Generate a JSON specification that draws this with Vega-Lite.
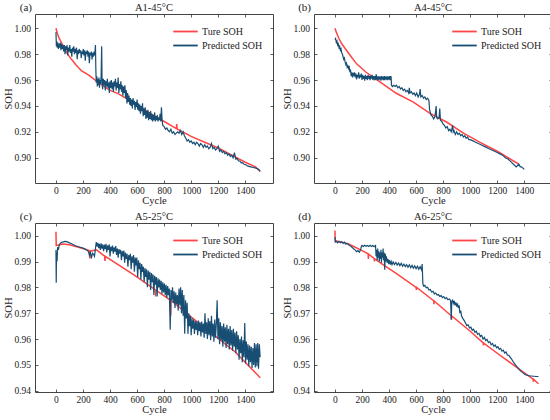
{
  "$schema": "https://vega.github.io/schema/vega-lite/v6.json",
  "padding": {"left": 3, "top": 1, "right": 2, "bottom": 2},
  "datasets": {
    "a_true": [
      {"cycle":0,"soh":1.0},{"cycle":10,"soh":0.996},{"cycle":25,"soh":0.992},{"cycle":40,"soh":0.989},{"cycle":60,"soh":0.985},
      {"cycle":80,"soh":0.981},{"cycle":115,"soh":0.976},{"cycle":150,"soh":0.9715},{"cycle":190,"soh":0.967},{"cycle":240,"soh":0.964},
      {"cycle":290,"soh":0.96},{"cycle":350,"soh":0.9555},{"cycle":400,"soh":0.952},{"cycle":460,"soh":0.9495},{"cycle":500,"soh":0.947},
      {"cycle":600,"soh":0.941},{"cycle":700,"soh":0.934},{"cycle":800,"soh":0.928},{"cycle":890,"soh":0.9225},{"cycle":893,"soh":0.926},
      {"cycle":896,"soh":0.9222},{"cycle":1000,"soh":0.9165},{"cycle":1100,"soh":0.912},{"cycle":1200,"soh":0.9075},{"cycle":1300,"soh":0.902},
      {"cycle":1400,"soh":0.8965},{"cycle":1475,"soh":0.893},{"cycle":1510,"soh":0.8895}
    ],
    "a_pred": [
      {"cycle":0,"soh":0.997},{"cycle":3,"soh":0.986},{"cycle":6,"soh":0.99},{"cycle":10,"soh":0.985},{"cycle":14,"soh":0.989},
      {"cycle":18,"soh":0.984},{"cycle":22,"soh":0.988},{"cycle":27,"soh":0.985},{"cycle":32,"soh":0.989},{"cycle":37,"soh":0.983},
      {"cycle":42,"soh":0.988},{"cycle":47,"soh":0.984},{"cycle":52,"soh":0.987},{"cycle":57,"soh":0.982},{"cycle":62,"soh":0.987},
      {"cycle":67,"soh":0.98},{"cycle":72,"soh":0.986},{"cycle":77,"soh":0.983},{"cycle":82,"soh":0.987},{"cycle":87,"soh":0.979},
      {"cycle":92,"soh":0.985},{"cycle":97,"soh":0.982},{"cycle":102,"soh":0.987},{"cycle":107,"soh":0.981},{"cycle":112,"soh":0.984},
      {"cycle":117,"soh":0.978},{"cycle":122,"soh":0.985},{"cycle":127,"soh":0.982},{"cycle":132,"soh":0.986},{"cycle":137,"soh":0.98},
      {"cycle":142,"soh":0.984},{"cycle":147,"soh":0.981},{"cycle":152,"soh":0.985},{"cycle":157,"soh":0.976},{"cycle":162,"soh":0.983},
      {"cycle":167,"soh":0.98},{"cycle":172,"soh":0.984},{"cycle":177,"soh":0.981},{"cycle":182,"soh":0.983},{"cycle":187,"soh":0.977},
      {"cycle":192,"soh":0.982},{"cycle":197,"soh":0.98},{"cycle":202,"soh":0.984},{"cycle":207,"soh":0.979},{"cycle":212,"soh":0.983},
      {"cycle":217,"soh":0.975},{"cycle":222,"soh":0.982},{"cycle":227,"soh":0.98},{"cycle":232,"soh":0.983},{"cycle":237,"soh":0.978},
      {"cycle":242,"soh":0.982},{"cycle":247,"soh":0.973},{"cycle":252,"soh":0.981},{"cycle":257,"soh":0.979},{"cycle":262,"soh":0.982},
      {"cycle":267,"soh":0.976},{"cycle":272,"soh":0.981},{"cycle":277,"soh":0.978},{"cycle":282,"soh":0.982},{"cycle":287,"soh":0.979},
      {"cycle":292,"soh":0.987},{"cycle":295,"soh":0.968},{"cycle":298,"soh":0.958},{"cycle":302,"soh":0.963},{"cycle":306,"soh":0.955},
      {"cycle":310,"soh":0.961},{"cycle":314,"soh":0.956},{"cycle":318,"soh":0.962},{"cycle":322,"soh":0.954},{"cycle":326,"soh":0.96},
      {"cycle":330,"soh":0.957},{"cycle":334,"soh":0.963},{"cycle":338,"soh":0.986},{"cycle":341,"soh":0.958},{"cycle":345,"soh":0.953},
      {"cycle":350,"soh":0.961},{"cycle":355,"soh":0.956},{"cycle":360,"soh":0.96},{"cycle":365,"soh":0.952},{"cycle":370,"soh":0.959},
      {"cycle":375,"soh":0.955},{"cycle":380,"soh":0.961},{"cycle":385,"soh":0.954},{"cycle":390,"soh":0.958},{"cycle":395,"soh":0.95},
      {"cycle":400,"soh":0.959},{"cycle":405,"soh":0.954},{"cycle":410,"soh":0.96},{"cycle":415,"soh":0.953},{"cycle":420,"soh":0.958},
      {"cycle":425,"soh":0.951},{"cycle":430,"soh":0.959},{"cycle":435,"soh":0.955},{"cycle":440,"soh":0.961},{"cycle":445,"soh":0.952},
      {"cycle":450,"soh":0.958},{"cycle":455,"soh":0.954},{"cycle":460,"soh":0.962},{"cycle":465,"soh":0.95},{"cycle":470,"soh":0.957},
      {"cycle":475,"soh":0.953},{"cycle":480,"soh":0.959},{"cycle":485,"soh":0.951},{"cycle":490,"soh":0.956},{"cycle":495,"soh":0.948},
      {"cycle":500,"soh":0.955},{"cycle":505,"soh":0.95},{"cycle":510,"soh":0.956},{"cycle":515,"soh":0.946},{"cycle":520,"soh":0.952},
      {"cycle":525,"soh":0.942},{"cycle":530,"soh":0.95},{"cycle":535,"soh":0.943},{"cycle":540,"soh":0.948},{"cycle":545,"soh":0.941},
      {"cycle":550,"soh":0.946},{"cycle":555,"soh":0.94},{"cycle":560,"soh":0.945},{"cycle":565,"soh":0.938},{"cycle":570,"soh":0.946},
      {"cycle":575,"soh":0.941},{"cycle":580,"soh":0.944},{"cycle":585,"soh":0.937},{"cycle":590,"soh":0.943},{"cycle":595,"soh":0.939},
      {"cycle":600,"soh":0.945},{"cycle":605,"soh":0.937},{"cycle":610,"soh":0.942},{"cycle":615,"soh":0.936},{"cycle":620,"soh":0.941},
      {"cycle":625,"soh":0.934},{"cycle":630,"soh":0.94},{"cycle":635,"soh":0.936},{"cycle":640,"soh":0.942},{"cycle":645,"soh":0.932},
      {"cycle":650,"soh":0.938},{"cycle":655,"soh":0.933},{"cycle":660,"soh":0.939},{"cycle":665,"soh":0.93},{"cycle":670,"soh":0.936},
      {"cycle":675,"soh":0.931},{"cycle":680,"soh":0.937},{"cycle":685,"soh":0.929},{"cycle":690,"soh":0.935},{"cycle":695,"soh":0.93},
      {"cycle":700,"soh":0.936},{"cycle":705,"soh":0.929},{"cycle":710,"soh":0.934},{"cycle":715,"soh":0.928},{"cycle":720,"soh":0.933},
      {"cycle":725,"soh":0.929},{"cycle":730,"soh":0.935},{"cycle":735,"soh":0.928},{"cycle":740,"soh":0.932},{"cycle":745,"soh":0.929},
      {"cycle":750,"soh":0.933},{"cycle":755,"soh":0.928},{"cycle":760,"soh":0.931},{"cycle":765,"soh":0.929},{"cycle":770,"soh":0.934},
      {"cycle":775,"soh":0.928},{"cycle":780,"soh":0.939},{"cycle":785,"soh":0.929},{"cycle":790,"soh":0.925},{"cycle":800,"soh":0.924},
      {"cycle":810,"soh":0.922},{"cycle":820,"soh":0.923},{"cycle":830,"soh":0.921},{"cycle":840,"soh":0.92},{"cycle":850,"soh":0.922},
      {"cycle":860,"soh":0.919},{"cycle":870,"soh":0.92},{"cycle":880,"soh":0.918},{"cycle":890,"soh":0.919},{"cycle":900,"soh":0.92},
      {"cycle":910,"soh":0.919},{"cycle":920,"soh":0.921},{"cycle":930,"soh":0.918},{"cycle":940,"soh":0.92},{"cycle":950,"soh":0.917},
      {"cycle":960,"soh":0.915},{"cycle":970,"soh":0.913},{"cycle":980,"soh":0.914},{"cycle":990,"soh":0.912},{"cycle":1000,"soh":0.913},
      {"cycle":1010,"soh":0.911},{"cycle":1020,"soh":0.912},{"cycle":1030,"soh":0.91},{"cycle":1040,"soh":0.912},{"cycle":1050,"soh":0.911},
      {"cycle":1060,"soh":0.909},{"cycle":1070,"soh":0.911},{"cycle":1080,"soh":0.91},{"cycle":1090,"soh":0.908},{"cycle":1100,"soh":0.91},
      {"cycle":1110,"soh":0.908},{"cycle":1120,"soh":0.909},{"cycle":1130,"soh":0.907},{"cycle":1140,"soh":0.908},{"cycle":1150,"soh":0.911},
      {"cycle":1160,"soh":0.907},{"cycle":1170,"soh":0.908},{"cycle":1180,"soh":0.906},{"cycle":1190,"soh":0.907},{"cycle":1200,"soh":0.909},
      {"cycle":1210,"soh":0.905},{"cycle":1220,"soh":0.906},{"cycle":1230,"soh":0.904},{"cycle":1240,"soh":0.905},{"cycle":1250,"soh":0.903},
      {"cycle":1260,"soh":0.904},{"cycle":1270,"soh":0.902},{"cycle":1280,"soh":0.903},{"cycle":1290,"soh":0.901},{"cycle":1300,"soh":0.902},
      {"cycle":1310,"soh":0.9},{"cycle":1320,"soh":0.904},{"cycle":1330,"soh":0.899},{"cycle":1340,"soh":0.8995},{"cycle":1350,"soh":0.8975},
      {"cycle":1360,"soh":0.8975},{"cycle":1370,"soh":0.896},{"cycle":1380,"soh":0.8962},{"cycle":1390,"soh":0.895},{"cycle":1400,"soh":0.8948},
      {"cycle":1420,"soh":0.8935},{"cycle":1440,"soh":0.893},{"cycle":1460,"soh":0.8925},{"cycle":1480,"soh":0.892},{"cycle":1500,"soh":0.891},
      {"cycle":1510,"soh":0.8895}
    ],
    "b_true": [
      {"cycle":0,"soh":1.0},{"cycle":10,"soh":0.997},{"cycle":25,"soh":0.993},{"cycle":50,"soh":0.988},{"cycle":85,"soh":0.983},
      {"cycle":120,"soh":0.978},{"cycle":160,"soh":0.9725},{"cycle":230,"soh":0.966},{"cycle":330,"soh":0.9587},{"cycle":450,"soh":0.95},
      {"cycle":580,"soh":0.943},{"cycle":700,"soh":0.9345},{"cycle":825,"soh":0.9276},{"cycle":950,"soh":0.919},{"cycle":1070,"soh":0.912},
      {"cycle":1200,"soh":0.905},{"cycle":1320,"soh":0.8975},{"cycle":1360,"soh":0.895}
    ],
    "b_pred": [
      {"cycle":0,"soh":0.991},{"cycle":5,"soh":0.992},{"cycle":10,"soh":0.989},{"cycle":15,"soh":0.99},{"cycle":20,"soh":0.987},
      {"cycle":25,"soh":0.988},{"cycle":30,"soh":0.985},{"cycle":35,"soh":0.986},{"cycle":40,"soh":0.983},{"cycle":45,"soh":0.984},
      {"cycle":50,"soh":0.981},{"cycle":55,"soh":0.98},{"cycle":60,"soh":0.978},{"cycle":65,"soh":0.976},{"cycle":70,"soh":0.977},
      {"cycle":75,"soh":0.974},{"cycle":80,"soh":0.972},{"cycle":85,"soh":0.973},{"cycle":90,"soh":0.97},{"cycle":95,"soh":0.971},
      {"cycle":100,"soh":0.969},{"cycle":105,"soh":0.971},{"cycle":110,"soh":0.966},{"cycle":115,"soh":0.968},{"cycle":120,"soh":0.963},
      {"cycle":125,"soh":0.966},{"cycle":130,"soh":0.962},{"cycle":135,"soh":0.9655},{"cycle":140,"soh":0.963},{"cycle":145,"soh":0.966},
      {"cycle":150,"soh":0.962},{"cycle":155,"soh":0.965},{"cycle":160,"soh":0.9605},{"cycle":165,"soh":0.964},{"cycle":170,"soh":0.962},
      {"cycle":175,"soh":0.966},{"cycle":180,"soh":0.961},{"cycle":185,"soh":0.964},{"cycle":190,"soh":0.962},{"cycle":195,"soh":0.965},
      {"cycle":200,"soh":0.96},{"cycle":205,"soh":0.964},{"cycle":210,"soh":0.961},{"cycle":215,"soh":0.963},{"cycle":220,"soh":0.9595},
      {"cycle":225,"soh":0.964},{"cycle":230,"soh":0.961},{"cycle":235,"soh":0.963},{"cycle":240,"soh":0.96},{"cycle":245,"soh":0.964},
      {"cycle":250,"soh":0.961},{"cycle":255,"soh":0.963},{"cycle":260,"soh":0.96},{"cycle":265,"soh":0.9635},{"cycle":270,"soh":0.961},
      {"cycle":275,"soh":0.964},{"cycle":280,"soh":0.96},{"cycle":285,"soh":0.963},{"cycle":290,"soh":0.961},{"cycle":295,"soh":0.963},
      {"cycle":300,"soh":0.96},{"cycle":305,"soh":0.9645},{"cycle":310,"soh":0.961},{"cycle":315,"soh":0.962},{"cycle":320,"soh":0.96},
      {"cycle":325,"soh":0.963},{"cycle":330,"soh":0.961},{"cycle":335,"soh":0.962},{"cycle":340,"soh":0.9595},{"cycle":345,"soh":0.963},
      {"cycle":350,"soh":0.961},{"cycle":355,"soh":0.962},{"cycle":360,"soh":0.96},{"cycle":365,"soh":0.963},{"cycle":370,"soh":0.96},
      {"cycle":375,"soh":0.962},{"cycle":380,"soh":0.961},{"cycle":385,"soh":0.963},{"cycle":390,"soh":0.96},{"cycle":395,"soh":0.962},
      {"cycle":400,"soh":0.961},{"cycle":405,"soh":0.963},{"cycle":410,"soh":0.96},{"cycle":415,"soh":0.963},{"cycle":418,"soh":0.956},
      {"cycle":425,"soh":0.955},{"cycle":435,"soh":0.956},{"cycle":445,"soh":0.955},{"cycle":455,"soh":0.956},{"cycle":465,"soh":0.954},
      {"cycle":475,"soh":0.955},{"cycle":485,"soh":0.953},{"cycle":495,"soh":0.954},{"cycle":505,"soh":0.952},{"cycle":515,"soh":0.953},
      {"cycle":525,"soh":0.951},{"cycle":535,"soh":0.952},{"cycle":545,"soh":0.95},{"cycle":550,"soh":0.954},{"cycle":555,"soh":0.95},
      {"cycle":565,"soh":0.951},{"cycle":575,"soh":0.949},{"cycle":585,"soh":0.95},{"cycle":595,"soh":0.948},{"cycle":605,"soh":0.95},
      {"cycle":615,"soh":0.947},{"cycle":625,"soh":0.949},{"cycle":630,"soh":0.953},{"cycle":635,"soh":0.947},{"cycle":645,"soh":0.948},
      {"cycle":655,"soh":0.946},{"cycle":665,"soh":0.947},{"cycle":675,"soh":0.945},{"cycle":685,"soh":0.946},{"cycle":695,"soh":0.944},
      {"cycle":700,"soh":0.937},{"cycle":710,"soh":0.933},{"cycle":720,"soh":0.932},{"cycle":730,"soh":0.93},{"cycle":740,"soh":0.932},
      {"cycle":748,"soh":0.94},{"cycle":752,"soh":0.931},{"cycle":760,"soh":0.93},{"cycle":770,"soh":0.931},{"cycle":775,"soh":0.938},
      {"cycle":780,"soh":0.929},{"cycle":790,"soh":0.928},{"cycle":800,"soh":0.926},{"cycle":810,"soh":0.925},{"cycle":820,"soh":0.923},
      {"cycle":830,"soh":0.924},{"cycle":840,"soh":0.921},{"cycle":850,"soh":0.922},{"cycle":860,"soh":0.92},{"cycle":870,"soh":0.925},
      {"cycle":875,"soh":0.92},{"cycle":880,"soh":0.921},{"cycle":890,"soh":0.918},{"cycle":900,"soh":0.92},{"cycle":910,"soh":0.918},
      {"cycle":920,"soh":0.919},{"cycle":930,"soh":0.917},{"cycle":940,"soh":0.918},{"cycle":950,"soh":0.916},{"cycle":960,"soh":0.917},
      {"cycle":970,"soh":0.915},{"cycle":980,"soh":0.916},{"cycle":990,"soh":0.914},{"cycle":1000,"soh":0.914},{"cycle":1020,"soh":0.913},
      {"cycle":1040,"soh":0.912},{"cycle":1060,"soh":0.911},{"cycle":1080,"soh":0.91},{"cycle":1100,"soh":0.909},{"cycle":1120,"soh":0.908},
      {"cycle":1140,"soh":0.907},{"cycle":1160,"soh":0.906},{"cycle":1180,"soh":0.905},{"cycle":1200,"soh":0.904},{"cycle":1220,"soh":0.903},
      {"cycle":1240,"soh":0.902},{"cycle":1260,"soh":0.9},{"cycle":1280,"soh":0.899},{"cycle":1300,"soh":0.897},{"cycle":1320,"soh":0.895},
      {"cycle":1340,"soh":0.893},{"cycle":1350,"soh":0.894},{"cycle":1360,"soh":0.895},{"cycle":1370,"soh":0.893},{"cycle":1380,"soh":0.893},
      {"cycle":1390,"soh":0.892},{"cycle":1400,"soh":0.891}
    ],
    "c_true": [
      {"cycle":0,"soh":1.0015},{"cycle":2,"soh":0.9962},{"cycle":50,"soh":0.9968},{"cycle":100,"soh":0.9965},{"cycle":200,"soh":0.995},
      {"cycle":246,"soh":0.9942},{"cycle":250,"soh":0.9912},{"cycle":254,"soh":0.994},{"cycle":300,"soh":0.9945},{"cycle":360,"soh":0.9921},
      {"cycle":362,"soh":0.9902},{"cycle":365,"soh":0.992},{"cycle":585,"soh":0.9845},{"cycle":735,"soh":0.979},{"cycle":737,"soh":0.9765},
      {"cycle":739,"soh":0.9789},{"cycle":832,"soh":0.9755},{"cycle":847,"soh":0.975},{"cycle":849,"soh":0.969},{"cycle":851,"soh":0.9749},
      {"cycle":1079,"soh":0.9652},{"cycle":1326,"soh":0.955},{"cycle":1511,"soh":0.945}
    ],
    "c_pred": [
      {"cycle":0,"soh":0.9945},{"cycle":2,"soh":0.9818},{"cycle":4,"soh":0.9935},{"cycle":8,"soh":0.99},{"cycle":12,"soh":0.9955},
      {"cycle":18,"soh":0.9945},{"cycle":25,"soh":0.9965},{"cycle":35,"soh":0.9972},{"cycle":45,"soh":0.9975},{"cycle":55,"soh":0.9976},
      {"cycle":65,"soh":0.9978},{"cycle":80,"soh":0.9977},{"cycle":100,"soh":0.9972},{"cycle":120,"soh":0.9968},{"cycle":140,"soh":0.9962},
      {"cycle":160,"soh":0.9958},{"cycle":180,"soh":0.9955},{"cycle":200,"soh":0.9952},{"cycle":215,"soh":0.9948},{"cycle":230,"soh":0.9944},
      {"cycle":240,"soh":0.9938},{"cycle":248,"soh":0.9925},{"cycle":255,"soh":0.9935},{"cycle":262,"soh":0.9912},{"cycle":270,"soh":0.9932},
      {"cycle":278,"soh":0.9928},{"cycle":285,"soh":0.992},{"cycle":292,"soh":0.995},{"cycle":298,"soh":0.9975},{"cycle":304,"soh":0.9958},
      {"cycle":310,"soh":0.9972},{"cycle":316,"soh":0.9952},{"cycle":322,"soh":0.9968},{"cycle":328,"soh":0.9945},{"cycle":334,"soh":0.997},
      {"cycle":340,"soh":0.995},{"cycle":346,"soh":0.9966},{"cycle":352,"soh":0.994},{"cycle":358,"soh":0.9965},{"cycle":364,"soh":0.9948},
      {"cycle":370,"soh":0.9968},{"cycle":376,"soh":0.9935},{"cycle":382,"soh":0.9962},{"cycle":388,"soh":0.9945},{"cycle":394,"soh":0.9966},
      {"cycle":400,"soh":0.992},{"cycle":406,"soh":0.9958},{"cycle":412,"soh":0.994},{"cycle":418,"soh":0.9962},{"cycle":424,"soh":0.993},
      {"cycle":430,"soh":0.9955},{"cycle":436,"soh":0.9938},{"cycle":442,"soh":0.996},{"cycle":448,"soh":0.9925},{"cycle":454,"soh":0.995},
      {"cycle":460,"soh":0.9915},{"cycle":466,"soh":0.9948},{"cycle":472,"soh":0.993},{"cycle":478,"soh":0.9945},{"cycle":484,"soh":0.9905},
      {"cycle":490,"soh":0.994},{"cycle":496,"soh":0.992},{"cycle":502,"soh":0.9942},{"cycle":508,"soh":0.9895},{"cycle":514,"soh":0.9935},
      {"cycle":520,"soh":0.991},{"cycle":526,"soh":0.993},{"cycle":532,"soh":0.988},{"cycle":538,"soh":0.9925},{"cycle":544,"soh":0.9905},
      {"cycle":550,"soh":0.993},{"cycle":556,"soh":0.987},{"cycle":562,"soh":0.992},{"cycle":568,"soh":0.9895},{"cycle":574,"soh":0.9925},
      {"cycle":580,"soh":0.986},{"cycle":586,"soh":0.9915},{"cycle":592,"soh":0.9885},{"cycle":598,"soh":0.9915},{"cycle":604,"soh":0.984},
      {"cycle":610,"soh":0.9905},{"cycle":616,"soh":0.987},{"cycle":622,"soh":0.9895},{"cycle":628,"soh":0.983},{"cycle":634,"soh":0.989},
      {"cycle":640,"soh":0.986},{"cycle":646,"soh":0.988},{"cycle":652,"soh":0.982},{"cycle":658,"soh":0.9875},{"cycle":664,"soh":0.984},
      {"cycle":670,"soh":0.987},{"cycle":676,"soh":0.98},{"cycle":682,"soh":0.9865},{"cycle":688,"soh":0.983},{"cycle":694,"soh":0.986},
      {"cycle":700,"soh":0.979},{"cycle":706,"soh":0.9855},{"cycle":712,"soh":0.982},{"cycle":718,"soh":0.985},{"cycle":724,"soh":0.977},
      {"cycle":730,"soh":0.9845},{"cycle":736,"soh":0.981},{"cycle":742,"soh":0.984},{"cycle":748,"soh":0.9765},{"cycle":754,"soh":0.9835},
      {"cycle":760,"soh":0.98},{"cycle":766,"soh":0.983},{"cycle":772,"soh":0.979},{"cycle":778,"soh":0.9825},{"cycle":784,"soh":0.9775},
      {"cycle":790,"soh":0.982},{"cycle":796,"soh":0.978},{"cycle":802,"soh":0.9815},{"cycle":808,"soh":0.977},{"cycle":814,"soh":0.981},
      {"cycle":820,"soh":0.976},{"cycle":826,"soh":0.9805},{"cycle":832,"soh":0.977},{"cycle":838,"soh":0.9795},{"cycle":845,"soh":0.9636},
      {"cycle":850,"soh":0.979},{"cycle":856,"soh":0.975},{"cycle":862,"soh":0.98},{"cycle":868,"soh":0.974},{"cycle":874,"soh":0.9785},
      {"cycle":880,"soh":0.972},{"cycle":886,"soh":0.978},{"cycle":892,"soh":0.9735},{"cycle":898,"soh":0.977},{"cycle":904,"soh":0.971},
      {"cycle":910,"soh":0.9795},{"cycle":916,"soh":0.973},{"cycle":922,"soh":0.98},{"cycle":928,"soh":0.97},{"cycle":934,"soh":0.979},
      {"cycle":940,"soh":0.969},{"cycle":946,"soh":0.977},{"cycle":952,"soh":0.962},{"cycle":958,"soh":0.975},{"cycle":964,"soh":0.968},
      {"cycle":970,"soh":0.974},{"cycle":976,"soh":0.962},{"cycle":982,"soh":0.97},{"cycle":988,"soh":0.965},{"cycle":994,"soh":0.969},
      {"cycle":1000,"soh":0.9615},{"cycle":1006,"soh":0.968},{"cycle":1012,"soh":0.964},{"cycle":1018,"soh":0.9675},{"cycle":1024,"soh":0.962},
      {"cycle":1030,"soh":0.967},{"cycle":1036,"soh":0.9635},{"cycle":1042,"soh":0.9668},{"cycle":1048,"soh":0.9615},{"cycle":1054,"soh":0.9672},
      {"cycle":1060,"soh":0.963},{"cycle":1066,"soh":0.9665},{"cycle":1072,"soh":0.961},{"cycle":1078,"soh":0.9668},{"cycle":1084,"soh":0.9625},
      {"cycle":1090,"soh":0.966},{"cycle":1096,"soh":0.9605},{"cycle":1102,"soh":0.97},{"cycle":1108,"soh":0.962},{"cycle":1114,"soh":0.9665},
      {"cycle":1120,"soh":0.96},{"cycle":1126,"soh":0.968},{"cycle":1132,"soh":0.9615},{"cycle":1138,"soh":0.967},{"cycle":1144,"soh":0.9595},
      {"cycle":1150,"soh":0.969},{"cycle":1156,"soh":0.961},{"cycle":1162,"soh":0.966},{"cycle":1168,"soh":0.959},{"cycle":1174,"soh":0.9675},
      {"cycle":1180,"soh":0.9605},{"cycle":1186,"soh":0.966},{"cycle":1192,"soh":0.975},{"cycle":1198,"soh":0.96},{"cycle":1204,"soh":0.968},
      {"cycle":1210,"soh":0.958},{"cycle":1216,"soh":0.9665},{"cycle":1222,"soh":0.9595},{"cycle":1228,"soh":0.965},{"cycle":1234,"soh":0.957},
      {"cycle":1240,"soh":0.966},{"cycle":1246,"soh":0.959},{"cycle":1252,"soh":0.9645},{"cycle":1258,"soh":0.9565},{"cycle":1264,"soh":0.9655},
      {"cycle":1270,"soh":0.958},{"cycle":1276,"soh":0.964},{"cycle":1282,"soh":0.956},{"cycle":1288,"soh":0.965},{"cycle":1294,"soh":0.9575},
      {"cycle":1300,"soh":0.9635},{"cycle":1306,"soh":0.9555},{"cycle":1312,"soh":0.964},{"cycle":1318,"soh":0.957},{"cycle":1324,"soh":0.9625},
      {"cycle":1330,"soh":0.9545},{"cycle":1336,"soh":0.963},{"cycle":1342,"soh":0.956},{"cycle":1348,"soh":0.9615},{"cycle":1354,"soh":0.952},
      {"cycle":1360,"soh":0.96},{"cycle":1366,"soh":0.9545},{"cycle":1372,"soh":0.961},{"cycle":1378,"soh":0.951},{"cycle":1384,"soh":0.9595},
      {"cycle":1390,"soh":0.953},{"cycle":1396,"soh":0.9662},{"cycle":1402,"soh":0.9505},{"cycle":1408,"soh":0.959},{"cycle":1414,"soh":0.952},
      {"cycle":1420,"soh":0.958},{"cycle":1426,"soh":0.9495},{"cycle":1432,"soh":0.9575},{"cycle":1438,"soh":0.951},{"cycle":1444,"soh":0.957},
      {"cycle":1450,"soh":0.9488},{"cycle":1456,"soh":0.9565},{"cycle":1462,"soh":0.95},{"cycle":1468,"soh":0.9585},{"cycle":1474,"soh":0.949},
      {"cycle":1480,"soh":0.958},{"cycle":1486,"soh":0.9495},{"cycle":1492,"soh":0.9585},{"cycle":1498,"soh":0.9485},{"cycle":1504,"soh":0.958},
      {"cycle":1510,"soh":0.953}
    ],
    "d_true": [
      {"cycle":0,"soh":1.002},{"cycle":2,"soh":0.998},{"cycle":50,"soh":0.9975},{"cycle":100,"soh":0.9968},{"cycle":150,"soh":0.9955},
      {"cycle":200,"soh":0.9942},{"cycle":245,"soh":0.993},{"cycle":247,"soh":0.991},{"cycle":249,"soh":0.9928},{"cycle":290,"soh":0.9912},
      {"cycle":292,"soh":0.99},{"cycle":294,"soh":0.991},{"cycle":350,"soh":0.989},{"cycle":450,"soh":0.9855},{"cycle":600,"soh":0.98},
      {"cycle":602,"soh":0.979},{"cycle":604,"soh":0.98},{"cycle":730,"soh":0.9748},{"cycle":732,"soh":0.9735},{"cycle":734,"soh":0.9747},
      {"cycle":860,"soh":0.969},{"cycle":862,"soh":0.9675},{"cycle":864,"soh":0.9689},{"cycle":1000,"soh":0.963},{"cycle":1096,"soh":0.9585},
      {"cycle":1098,"soh":0.9575},{"cycle":1100,"soh":0.9584},{"cycle":1200,"soh":0.9545},{"cycle":1319,"soh":0.95},{"cycle":1465,"soh":0.9445},
      {"cycle":1467,"soh":0.9435},{"cycle":1469,"soh":0.9444},{"cycle":1505,"soh":0.9427}
    ],
    "d_pred": [
      {"cycle":0,"soh":0.9995},{"cycle":3,"soh":0.9975},{"cycle":10,"soh":0.9978},{"cycle":20,"soh":0.9972},{"cycle":30,"soh":0.9978},
      {"cycle":40,"soh":0.9973},{"cycle":50,"soh":0.9976},{"cycle":60,"soh":0.997},{"cycle":70,"soh":0.9975},{"cycle":80,"soh":0.9968},
      {"cycle":90,"soh":0.997},{"cycle":100,"soh":0.9965},{"cycle":110,"soh":0.9962},{"cycle":120,"soh":0.9958},{"cycle":130,"soh":0.9953},
      {"cycle":140,"soh":0.9948},{"cycle":150,"soh":0.9944},{"cycle":160,"soh":0.9938},{"cycle":170,"soh":0.9942},{"cycle":180,"soh":0.9936},
      {"cycle":190,"soh":0.9945},{"cycle":195,"soh":0.9958},{"cycle":200,"soh":0.9962},{"cycle":210,"soh":0.9958},{"cycle":220,"soh":0.9963},
      {"cycle":230,"soh":0.9959},{"cycle":240,"soh":0.9962},{"cycle":250,"soh":0.9958},{"cycle":260,"soh":0.9963},{"cycle":270,"soh":0.9958},
      {"cycle":280,"soh":0.9962},{"cycle":290,"soh":0.9957},{"cycle":300,"soh":0.9962},{"cycle":304,"soh":0.992},{"cycle":308,"soh":0.9945},
      {"cycle":312,"soh":0.9905},{"cycle":316,"soh":0.995},{"cycle":320,"soh":0.9915},{"cycle":324,"soh":0.994},{"cycle":328,"soh":0.99},
      {"cycle":332,"soh":0.9935},{"cycle":336,"soh":0.991},{"cycle":340,"soh":0.9945},{"cycle":344,"soh":0.9895},{"cycle":348,"soh":0.9935},
      {"cycle":352,"soh":0.9915},{"cycle":356,"soh":0.995},{"cycle":360,"soh":0.9905},{"cycle":364,"soh":0.9935},{"cycle":368,"soh":0.9868},
      {"cycle":372,"soh":0.993},{"cycle":376,"soh":0.99},{"cycle":380,"soh":0.992},{"cycle":386,"soh":0.9895},{"cycle":392,"soh":0.991},
      {"cycle":398,"soh":0.989},{"cycle":404,"soh":0.9905},{"cycle":410,"soh":0.9888},{"cycle":416,"soh":0.99},{"cycle":422,"soh":0.9888},
      {"cycle":430,"soh":0.9898},{"cycle":440,"soh":0.9888},{"cycle":450,"soh":0.9896},{"cycle":460,"soh":0.9886},{"cycle":470,"soh":0.9894},
      {"cycle":480,"soh":0.9884},{"cycle":490,"soh":0.9893},{"cycle":500,"soh":0.9882},{"cycle":510,"soh":0.989},{"cycle":520,"soh":0.988},
      {"cycle":530,"soh":0.9888},{"cycle":540,"soh":0.9878},{"cycle":550,"soh":0.9887},{"cycle":560,"soh":0.9876},{"cycle":570,"soh":0.9885},
      {"cycle":580,"soh":0.9874},{"cycle":590,"soh":0.9883},{"cycle":600,"soh":0.9872},{"cycle":610,"soh":0.9882},{"cycle":620,"soh":0.987},
      {"cycle":630,"soh":0.988},{"cycle":640,"soh":0.9868},{"cycle":645,"soh":0.989},{"cycle":650,"soh":0.9815},{"cycle":655,"soh":0.9805},
      {"cycle":665,"soh":0.9808},{"cycle":675,"soh":0.9798},{"cycle":685,"soh":0.98},{"cycle":695,"soh":0.979},{"cycle":705,"soh":0.9792},
      {"cycle":715,"soh":0.9782},{"cycle":725,"soh":0.9785},{"cycle":735,"soh":0.9775},{"cycle":745,"soh":0.9778},{"cycle":755,"soh":0.977},
      {"cycle":765,"soh":0.9772},{"cycle":775,"soh":0.9765},{"cycle":785,"soh":0.9768},{"cycle":795,"soh":0.976},{"cycle":805,"soh":0.9764},
      {"cycle":815,"soh":0.9756},{"cycle":825,"soh":0.976},{"cycle":835,"soh":0.9752},{"cycle":845,"soh":0.9755},{"cycle":855,"soh":0.975},
      {"cycle":860,"soh":0.9675},{"cycle":864,"soh":0.9745},{"cycle":870,"soh":0.975},{"cycle":876,"soh":0.9738},{"cycle":882,"soh":0.9748},
      {"cycle":888,"soh":0.973},{"cycle":894,"soh":0.9742},{"cycle":900,"soh":0.9725},{"cycle":906,"soh":0.9738},{"cycle":912,"soh":0.972},
      {"cycle":918,"soh":0.973},{"cycle":924,"soh":0.97},{"cycle":930,"soh":0.971},{"cycle":936,"soh":0.969},{"cycle":945,"soh":0.968},
      {"cycle":955,"soh":0.9672},{"cycle":965,"soh":0.9662},{"cycle":975,"soh":0.9652},{"cycle":985,"soh":0.9655},{"cycle":995,"soh":0.9643},
      {"cycle":1005,"soh":0.9646},{"cycle":1015,"soh":0.9634},{"cycle":1025,"soh":0.9638},{"cycle":1035,"soh":0.9626},{"cycle":1045,"soh":0.963},
      {"cycle":1055,"soh":0.9618},{"cycle":1065,"soh":0.9622},{"cycle":1075,"soh":0.961},{"cycle":1085,"soh":0.9614},{"cycle":1095,"soh":0.96},
      {"cycle":1105,"soh":0.9606},{"cycle":1115,"soh":0.9594},{"cycle":1125,"soh":0.9598},{"cycle":1135,"soh":0.9586},{"cycle":1145,"soh":0.959},
      {"cycle":1155,"soh":0.9578},{"cycle":1165,"soh":0.9583},{"cycle":1175,"soh":0.9572},{"cycle":1185,"soh":0.9577},{"cycle":1195,"soh":0.9566},
      {"cycle":1205,"soh":0.957},{"cycle":1215,"soh":0.956},{"cycle":1225,"soh":0.9564},{"cycle":1235,"soh":0.9553},{"cycle":1245,"soh":0.9557},
      {"cycle":1255,"soh":0.9546},{"cycle":1265,"soh":0.955},{"cycle":1275,"soh":0.9538},{"cycle":1285,"soh":0.9537},{"cycle":1295,"soh":0.953},
      {"cycle":1305,"soh":0.9523},{"cycle":1315,"soh":0.9515},{"cycle":1325,"soh":0.9507},{"cycle":1335,"soh":0.95},{"cycle":1345,"soh":0.9493},
      {"cycle":1355,"soh":0.9487},{"cycle":1365,"soh":0.9481},{"cycle":1375,"soh":0.9476},{"cycle":1385,"soh":0.9471},{"cycle":1395,"soh":0.9467},
      {"cycle":1405,"soh":0.9463},{"cycle":1415,"soh":0.9461},{"cycle":1425,"soh":0.9459},{"cycle":1435,"soh":0.9458},{"cycle":1445,"soh":0.9457},
      {"cycle":1455,"soh":0.9457},{"cycle":1465,"soh":0.9456},{"cycle":1475,"soh":0.9456},{"cycle":1485,"soh":0.9455},{"cycle":1495,"soh":0.9455},
      {"cycle":1505,"soh":0.9455}
    ]
  },
  "columns": 2,
  "spacing": {"row": 4, "column": 8},
  "concat": [
    {
      "width": 238, "height": 169, "title": "A1-45°C",
      "layer": [
        {"data": {"name": "a_true"}, "mark": {"type": "line", "strokeWidth": 1.5},
         "encoding": {
           "x": {"field": "cycle", "type": "quantitative", "scale": {"domain": [-155, 1605], "nice": false, "zero": false}, "axis": {"orient": "bottom", "values": [0,200,400,600,800,1000,1200,1400], "format": "d", "title": "Cycle"}},
           "y": {"field": "soh", "type": "quantitative", "scale": {"domain": [0.8805, 1.011], "nice": false, "zero": false}, "axis": {"orient": "left", "values": [0.9,0.92,0.94,0.96,0.98,1.0], "format": ".2f", "title": "SOH"}},
           "color": {"datum": "Ture SOH", "scale": {"domain": ["Ture SOH", "Predicted SOH"], "range": ["#ff4545", "#184e74"]}, "legend": {"title": null}}
         }},
        {"data": {"name": "a_pred"}, "mark": {"type": "line", "strokeWidth": 1.2},
         "encoding": {
           "x": {"field": "cycle", "type": "quantitative", "axis": {"orient": "top", "values": [0,200,400,600,800,1000,1200,1400], "labels": false, "title": null}},
           "y": {"field": "soh", "type": "quantitative", "axis": {"orient": "right", "values": [0.9,0.92,0.94,0.96,0.98,1.0], "labels": false, "title": null}},
           "color": {"datum": "Predicted SOH"}
         }},
        {"data": {"values": [{"tag": "(a)"}]}, "mark": {"type": "text", "align": "right", "baseline": "bottom", "dx": -3, "dy": -1, "fontSize": 11},
         "encoding": {
           "x": {"datum": -155, "type": "quantitative", "axis": null},
           "y": {"datum": 1.011, "type": "quantitative", "axis": null},
           "text": {"field": "tag"}
         }}
      ],
      "resolve": {"axis": {"x": "independent", "y": "independent"}}
    },
    {
      "width": 238, "height": 169, "title": "A4-45°C",
      "layer": [
        {"data": {"name": "b_true"}, "mark": {"type": "line", "strokeWidth": 1.5},
         "encoding": {
           "x": {"field": "cycle", "type": "quantitative", "scale": {"domain": [-155, 1605], "nice": false, "zero": false}, "axis": {"orient": "bottom", "values": [0,200,400,600,800,1000,1200,1400], "format": "d", "title": "Cycle"}},
           "y": {"field": "soh", "type": "quantitative", "scale": {"domain": [0.8805, 1.011], "nice": false, "zero": false}, "axis": {"orient": "left", "values": [0.9,0.92,0.94,0.96,0.98,1.0], "format": ".2f", "title": "SOH"}},
           "color": {"datum": "Ture SOH", "scale": {"domain": ["Ture SOH", "Predicted SOH"], "range": ["#ff4545", "#184e74"]}, "legend": {"title": null}}
         }},
        {"data": {"name": "b_pred"}, "mark": {"type": "line", "strokeWidth": 1.2},
         "encoding": {
           "x": {"field": "cycle", "type": "quantitative", "axis": {"orient": "top", "values": [0,200,400,600,800,1000,1200,1400], "labels": false, "title": null}},
           "y": {"field": "soh", "type": "quantitative", "axis": {"orient": "right", "values": [0.9,0.92,0.94,0.96,0.98,1.0], "labels": false, "title": null}},
           "color": {"datum": "Predicted SOH"}
         }},
        {"data": {"values": [{"tag": "(b)"}]}, "mark": {"type": "text", "align": "right", "baseline": "bottom", "dx": -3, "dy": -1, "fontSize": 11},
         "encoding": {
           "x": {"datum": -155, "type": "quantitative", "axis": null},
           "y": {"datum": 1.011, "type": "quantitative", "axis": null},
           "text": {"field": "tag"}
         }}
      ],
      "resolve": {"axis": {"x": "independent", "y": "independent"}}
    },
    {
      "width": 238, "height": 169, "title": "A5-25°C",
      "layer": [
        {"data": {"name": "c_true"}, "mark": {"type": "line", "strokeWidth": 1.5},
         "encoding": {
           "x": {"field": "cycle", "type": "quantitative", "scale": {"domain": [-155, 1605], "nice": false, "zero": false}, "axis": {"orient": "bottom", "values": [0,200,400,600,800,1000,1200,1400], "format": "d", "title": "Cycle"}},
           "y": {"field": "soh", "type": "quantitative", "scale": {"domain": [0.9395, 1.0049], "nice": false, "zero": false}, "axis": {"orient": "left", "values": [0.94,0.95,0.96,0.97,0.98,0.99,1.0], "format": ".2f", "title": "SOH"}},
           "color": {"datum": "Ture SOH", "scale": {"domain": ["Ture SOH", "Predicted SOH"], "range": ["#ff4545", "#184e74"]}, "legend": {"title": null}}
         }},
        {"data": {"name": "c_pred"}, "mark": {"type": "line", "strokeWidth": 1.2},
         "encoding": {
           "x": {"field": "cycle", "type": "quantitative", "axis": {"orient": "top", "values": [0,200,400,600,800,1000,1200,1400], "labels": false, "title": null}},
           "y": {"field": "soh", "type": "quantitative", "axis": {"orient": "right", "values": [0.94,0.95,0.96,0.97,0.98,0.99,1.0], "labels": false, "title": null}},
           "color": {"datum": "Predicted SOH"}
         }},
        {"data": {"values": [{"tag": "(c)"}]}, "mark": {"type": "text", "align": "right", "baseline": "bottom", "dx": -3, "dy": -1, "fontSize": 11},
         "encoding": {
           "x": {"datum": -155, "type": "quantitative", "axis": null},
           "y": {"datum": 1.0049, "type": "quantitative", "axis": null},
           "text": {"field": "tag"}
         }}
      ],
      "resolve": {"axis": {"x": "independent", "y": "independent"}}
    },
    {
      "width": 238, "height": 169, "title": "A6-25°C",
      "layer": [
        {"data": {"name": "d_true"}, "mark": {"type": "line", "strokeWidth": 1.5},
         "encoding": {
           "x": {"field": "cycle", "type": "quantitative", "scale": {"domain": [-155, 1605], "nice": false, "zero": false}, "axis": {"orient": "bottom", "values": [0,200,400,600,800,1000,1200,1400], "format": "d", "title": "Cycle"}},
           "y": {"field": "soh", "type": "quantitative", "scale": {"domain": [0.9395, 1.0049], "nice": false, "zero": false}, "axis": {"orient": "left", "values": [0.94,0.95,0.96,0.97,0.98,0.99,1.0], "format": ".2f", "title": "SOH"}},
           "color": {"datum": "Ture SOH", "scale": {"domain": ["Ture SOH", "Predicted SOH"], "range": ["#ff4545", "#184e74"]}, "legend": {"title": null}}
         }},
        {"data": {"name": "d_pred"}, "mark": {"type": "line", "strokeWidth": 1.2},
         "encoding": {
           "x": {"field": "cycle", "type": "quantitative", "axis": {"orient": "top", "values": [0,200,400,600,800,1000,1200,1400], "labels": false, "title": null}},
           "y": {"field": "soh", "type": "quantitative", "axis": {"orient": "right", "values": [0.94,0.95,0.96,0.97,0.98,0.99,1.0], "labels": false, "title": null}},
           "color": {"datum": "Predicted SOH"}
         }},
        {"data": {"values": [{"tag": "(d)"}]}, "mark": {"type": "text", "align": "right", "baseline": "bottom", "dx": -3, "dy": -1, "fontSize": 11},
         "encoding": {
           "x": {"datum": -155, "type": "quantitative", "axis": null},
           "y": {"datum": 1.0049, "type": "quantitative", "axis": null},
           "text": {"field": "tag"}
         }}
      ],
      "resolve": {"axis": {"x": "independent", "y": "independent"}}
    }
  ],
  "resolve": {"scale": {"color": "independent"}, "legend": {"color": "independent"}},
  "config": {
    "font": "Liberation Serif",
    "view": {"stroke": "#444", "strokeWidth": 1},
    "axis": {
      "domain": false, "grid": false, "tickSize": -3, "tickColor": "#333", "tickWidth": 0.8,
      "labelFont": "Liberation Serif", "labelFontSize": 9.5, "labelColor": "#222",
      "titleFont": "Liberation Serif", "titleFontSize": 10.5, "titleFontWeight": "normal", "titleColor": "#222", "titlePadding": 0
    },
    "axisX": {"labelPadding": 5.5},
    "axisY": {"labelPadding": 7.5},
    "title": {"font": "Liberation Serif", "fontSize": 10.5, "fontWeight": "normal", "color": "#222", "offset": -11},
    "text": {"font": "Liberation Serif", "color": "#222"},
    "legend": {
      "orient": "top-right", "offset": 10, "padding": 0,
      "labelFont": "Liberation Serif", "labelFontSize": 10, "labelColor": "#222",
      "symbolType": "M-2,0H2", "symbolSize": 150, "symbolStrokeWidth": 1.8, "labelOffset": 9, "rowPadding": 1
    }
  }
}
